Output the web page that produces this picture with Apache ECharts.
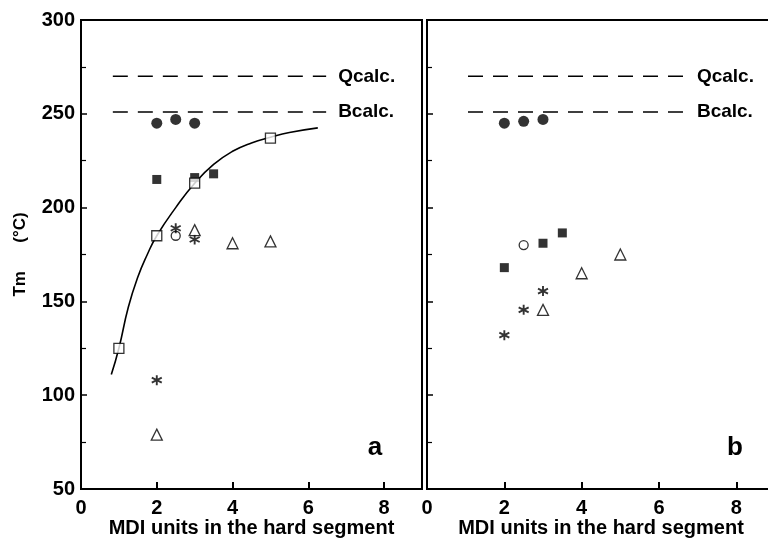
<!DOCTYPE html>
<html>
<head>
<meta charset="utf-8">
<script src="https://cdn.jsdelivr.net/npm/echarts@6/dist/echarts.min.js"></script>
<style>
    html, body { margin: 0; padding: 0; background: #fff; }
    #main { width: 768px; height: 538px; }
</style>
</head>
<body>
<div id="main"></div>
<script>
    // panel a values
    var curveA = [[0.8,111],[1,125],[1.25,147],[1.5,163],[1.75,175],[2,185],[2.5,200],[3,213],[3.5,223],[4,230],[4.5,234.5],[5,237.5],[5.5,240],[6.25,242.5]];
    var fillCircleA = [[2,245],[2.5,247],[3,245]];
    var fillSquareA = [[2,215],[3,216],[3.5,218]];
    var openSquareA = [[1,125],[2,185],[3,213],[5,237]];
    var openCircleA = [[2.5,185]];
    var starA = [[2.5,189],[3,183],[2,108]];
    var triangleA = [[3,188],[4,181],[5,182],[2,79]];
    var qcalcA = [[0.84,270],[6.47,270]];
    var bcalcA = [[0.84,251],[6.47,251]];

    // panel b values
    var fillCircleB = [[2,245],[2.5,246],[3,247]];
    var fillSquareB = [[2,168],[3,181],[3.5,186.5]];
    var openCircleB = [[2.5,180]];
    var starB = [[2,132],[2.5,145.5],[3,155.5]];
    var triangleB = [[3,145.5],[4,165],[5,175]];
    var qcalcB = [[1.06,270],[6.67,270]];
    var bcalcB = [[1.06,251],[6.67,251]];

    var font = 'Liberation Sans, Arial, sans-serif';
    var star = 'path://M5,0L5,10M0.67,2.5L9.33,7.5M0.67,7.5L9.33,2.5';

    function xAx(idx) {
        return {
            gridIndex: idx, type: 'value', min: 0, max: 9, interval: 2,
            name: 'MDI units in the hard segment', nameLocation: 'middle', nameGap: 29, nameMoveOverlap: false,
            nameTextStyle: { fontFamily: font, fontWeight: 'bold', fontSize: 20, color: '#000' },
            axisLine: { lineStyle: { color: '#000', width: 2 } },
            axisTick: { inside: true, length: 7, lineStyle: { color: '#000', width: 2 } },
            axisLabel: { margin: 9, fontFamily: font, fontWeight: 'bold', fontSize: 20, color: '#000',
                formatter: function (v) { return v % 2 === 0 ? v : ''; } },
            splitLine: { show: false }
        };
    }
    function yAx(idx, labels) {
        return {
            gridIndex: idx, type: 'value', min: 50, max: 300, interval: 50,
            name: labels ? 'Tm      (°C)' : '', nameLocation: 'middle', nameGap: 52, nameRotate: 90,
            nameTextStyle: { fontFamily: font, fontWeight: 'bold', fontSize: 17, color: '#000' },
            axisLine: { lineStyle: { color: '#000', width: 2 } },
            axisTick: { inside: true, length: 6, lineStyle: { color: '#000', width: 1.5 } },
            minorTick: { show: true, splitNumber: 2, length: 5, lineStyle: { color: '#000', width: 1.2 } },
            axisLabel: { show: labels, margin: 6, fontFamily: font, fontWeight: 'bold', fontSize: 20, color: '#000' },
            splitLine: { show: false }
        };
    }
    function pts(name, data, g, symbol, size, filled) {
        return {
            name: name, type: 'scatter', xAxisIndex: g, yAxisIndex: g, data: data,
            symbol: symbol, symbolSize: size, z: 5,
            itemStyle: filled ? { color: '#000' } : { color: '#fff', borderColor: '#000', borderWidth: 1.3 }
        };
    }
    function dash(name, data, g) {
        return {
            name: name, type: 'line', xAxisIndex: g, yAxisIndex: g, data: data, showSymbol: false,
            lineStyle: { color: '#000', width: 1.5, type: [15, 10] },
            endLabel: { show: true, formatter: name, distance: 12, fontFamily: font, fontWeight: 'bold', fontSize: 19, color: '#000' }
        };
    }
    function stars(data, g) {
        return {
            type: 'scatter', xAxisIndex: g, yAxisIndex: g, data: data,
            symbol: star, symbolSize: 10, z: 5,
            itemStyle: { color: 'transparent', borderColor: '#000', borderWidth: 1.9 }
        };
    }

    var chart = echarts.init(document.getElementById('main'));
    chart.setOption({
        animation: false,
        backgroundColor: '#fff',
        grid: [
            { left: 81, top: 20, width: 341, height: 469, outerBoundsMode: 'none', show: true, borderColor: '#000', borderWidth: 2 },
            { left: 427, top: 20, width: 348, height: 469, outerBoundsMode: 'none', show: true, borderColor: '#000', borderWidth: 2 }
        ],
        xAxis: [xAx(0), xAx(1)],
        yAxis: [yAx(0, true), yAx(1, false)],
        graphic: [
            { type: 'text', x: 375, y: 448, style: { text: 'a', fontFamily: font, fontWeight: 'bold', fontSize: 26, fill: '#000', textAlign: 'center', textVerticalAlign: 'middle' } },
            { type: 'text', x: 735, y: 448, style: { text: 'b', fontFamily: font, fontWeight: 'bold', fontSize: 26, fill: '#000', textAlign: 'center', textVerticalAlign: 'middle' } }
        ],
        series: [
            { type: 'line', xAxisIndex: 0, yAxisIndex: 0, data: curveA, smooth: true, showSymbol: false,
              lineStyle: { color: '#000', width: 1.6 } },
            dash('Qcalc.', qcalcA, 0),
            dash('Bcalc.', bcalcA, 0),
            pts('fc', fillCircleA, 0, 'circle', 11, true),
            pts('fs', fillSquareA, 0, 'rect', 9, true),
            pts('os', openSquareA, 0, 'rect', 10, false),
            pts('oc', openCircleA, 0, 'circle', 9, false),
            stars(starA, 0),
            pts('tr', triangleA, 0, 'triangle', 11, false),

            dash('Qcalc.', qcalcB, 1),
            dash('Bcalc.', bcalcB, 1),
            pts('fc', fillCircleB, 1, 'circle', 11, true),
            pts('fs', fillSquareB, 1, 'rect', 9, true),
            pts('oc', openCircleB, 1, 'circle', 9, false),
            stars(starB, 1),
            pts('tr', triangleB, 1, 'triangle', 11, false)
        ]
    });
</script>
</body>
</html>
